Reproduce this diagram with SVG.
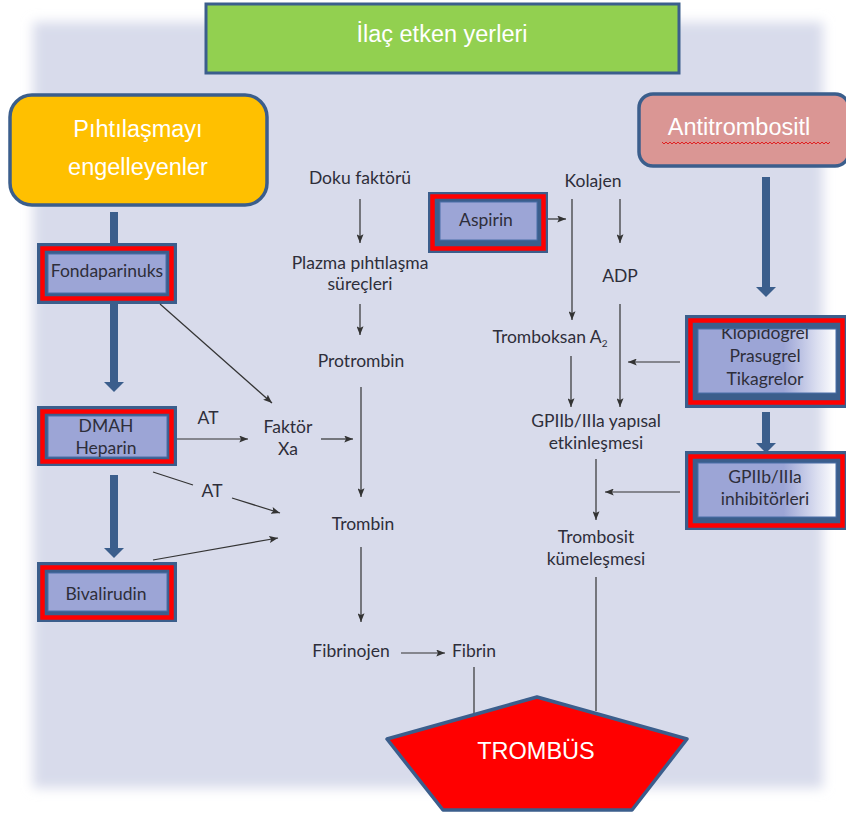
<svg xmlns="http://www.w3.org/2000/svg" width="846" height="814" viewBox="0 0 846 814">
<defs>
<filter id="blur" x="-5%" y="-5%" width="110%" height="110%"><feGaussianBlur stdDeviation="6"/></filter>
<linearGradient id="fadeR" x1="0" y1="0" x2="1" y2="0">
<stop offset="0" stop-color="#9CA5D6"/><stop offset="0.62" stop-color="#9CA5D6"/><stop offset="1" stop-color="#FFFFFF"/>
</linearGradient>
<marker id="ah" viewBox="0 0 10 8" refX="10" refY="4" markerWidth="9" markerHeight="7" markerUnits="userSpaceOnUse" orient="auto"><path d="M0,0 L10,4 L0,8 L2,4 z" fill="#333"/></marker>
<marker id="big" viewBox="0 0 10 20" refX="0" refY="10" markerWidth="10" markerHeight="20" markerUnits="userSpaceOnUse" orient="auto"><path d="M0,0 L10,10 L0,20 z" fill="#3B5E8C"/></marker>
<clipPath id="clipK"><rect x="698" y="329" width="138" height="64"/></clipPath>
<style>
.t{font-family:Lato,"Open Sans","DejaVu Sans",sans-serif;font-size:17.5px;fill:#2E2E3A;text-anchor:middle}
.w{font-family:"Liberation Sans",Arial,sans-serif;font-size:23.5px;fill:#FFFFFF;text-anchor:middle}
.frame{fill:#3B5E8C}
.red{fill:none;stroke:#FF0000;stroke-width:4.5}
.inner{fill:#9CA5D6;stroke:#4A6FA8;stroke-width:1}
.thin{stroke:#333;stroke-width:1.2;fill:none}
.thick{stroke:#3B5E8C;stroke-width:8;fill:none}
</style>
</defs>
<rect x="0" y="0" width="846" height="814" fill="#FFFFFF"/>
<rect x="33" y="22" width="790" height="766" fill="#D8DBEB" filter="url(#blur)"/>

<g id="title">
<rect x="206" y="4" width="473" height="69" fill="#92D050" stroke="#3B5E8C" stroke-width="3"/>
<text class="w" x="442" y="42" font-size="24.5">İlaç etken yerleri</text>
</g>

<g id="pihtilasma">
<rect x="10" y="95" width="257" height="110" rx="22" fill="#FFC000" stroke="#3B5E8C" stroke-width="3.5"/>
<text class="w" x="138" y="137">Pıhtılaşmayı</text>
<text class="w" x="138" y="175">engelleyenler</text>
</g>

<g id="antitrombositl">
<rect x="639" y="94" width="210" height="72" rx="14" fill="#DA9694" stroke="#3B5E8C" stroke-width="3.5"/>
<text class="w" x="739" y="135" font-size="25.5">Antitrombositl</text>
<path d="M662,142 l2,2 l2,-2 l2,2 l2,-2 l2,2 l2,-2 l2,2 l2,-2 l2,2 l2,-2 l2,2 l2,-2 l2,2 l2,-2 l2,2 l2,-2 l2,2 l2,-2 l2,2 l2,-2 l2,2 l2,-2 l2,2 l2,-2 l2,2 l2,-2 l2,2 l2,-2 l2,2 l2,-2 l2,2 l2,-2 l2,2 l2,-2 l2,2 l2,-2 l2,2 l2,-2 l2,2 l2,-2 l2,2 l2,-2 l2,2 l2,-2 l2,2 l2,-2 l2,2 l2,-2 l2,2 l2,-2 l2,2 l2,-2 l2,2 l2,-2 l2,2 l2,-2 l2,2 l2,-2 l2,2 l2,-2 l2,2 l2,-2 l2,2 l2,-2 l2,2 l2,-2 l2,2 l2,-2 l2,2 l2,-2 l2,2 l2,-2 l2,2 l2,-2 l2,2 l2,-2 l2,2 l2,-2 l2,2 l2,-2 l2,2 l2,-2 l2,2 l2,-2" fill="none" stroke="#E02020" stroke-width="1"/>
</g>

<g id="fondaparinuks">
<rect class="frame" x="37" y="243" width="140" height="61"/>
<rect class="red" x="42.5" y="248.5" width="129" height="50"/>
<rect class="inner" x="48" y="254" width="118" height="39"/>
<text class="t" x="107" y="277">Fondaparinuks</text>
</g>

<g id="dmah">
<rect class="frame" x="37" y="406" width="140" height="60"/>
<rect class="red" x="42.5" y="411.5" width="129" height="50"/>
<rect class="inner" x="48" y="416" width="119" height="41"/>
<text class="t" x="106" y="432">DMAH</text>
<text class="t" x="106" y="454">Heparin</text>
</g>

<g id="bivalirudin">
<rect class="frame" x="37" y="562" width="140" height="60"/>
<rect class="red" x="42.5" y="567.5" width="129" height="50"/>
<rect class="inner" x="48" y="573" width="119" height="38"/>
<text class="t" x="106" y="600">Bivalirudin</text>
</g>

<g id="aspirin">
<rect class="frame" x="428" y="192" width="120" height="61"/>
<rect class="red" x="432.5" y="196.5" width="111" height="52"/>
<rect class="inner" x="440" y="202" width="97" height="38"/>
<text class="t" x="486" y="226">Aspirin</text>
</g>

<g id="klopidogrel">
<rect class="frame" x="685" y="315" width="161" height="93"/>
<rect class="red" x="690.5" y="320.5" width="152" height="82"/>
<rect x="698" y="329" width="138" height="64" fill="url(#fadeR)" stroke="#4A6FA8" stroke-width="1"/>
<g clip-path="url(#clipK)">
<text class="t" x="765" y="339">Klopidogrel</text>
<text class="t" x="765" y="362">Prasugrel</text>
<text class="t" x="765" y="385">Tikagrelor</text>
</g>
</g>

<g id="gp-inhibitorleri">
<rect class="frame" x="685" y="451" width="161" height="79"/>
<rect class="red" x="690.5" y="456.5" width="152" height="69"/>
<rect x="698" y="463" width="138" height="54" fill="url(#fadeR)" stroke="#4A6FA8" stroke-width="1"/>
<text class="t" x="765" y="483">GPIIb/IIIa</text>
<text class="t" x="765" y="505">inhibitörleri</text>
</g>

<g id="labels">
<text class="t" x="360" y="184">Doku faktörü</text>
<text class="t" x="360" y="269">Plazma pıhtılaşma</text>
<text class="t" x="360" y="290">süreçleri</text>
<text class="t" x="361" y="367">Protrombin</text>
<text class="t" x="288" y="433">Faktör</text>
<text class="t" x="288" y="455">Xa</text>
<text class="t" x="208" y="424">AT</text>
<text class="t" x="212" y="497">AT</text>
<text class="t" x="363" y="530">Trombin</text>
<text class="t" x="351" y="657">Fibrinojen</text>
<text class="t" x="474" y="657">Fibrin</text>
<text class="t" x="593" y="187">Kolajen</text>
<text class="t" x="620" y="282">ADP</text>
<text class="t" x="550" y="343">Tromboksan A<tspan font-size="10" dy="4">2</tspan></text>
<text class="t" x="596" y="427">GPIIb/IIIa yapısal</text>
<text class="t" x="596" y="449">etkinleşmesi</text>
<text class="t" x="596" y="543">Trombosit</text>
<text class="t" x="596" y="565">kümeleşmesi</text>
</g>

<g id="connectors">
<line class="thick" x1="114" y1="212" x2="114" y2="243"/>
<line class="thick" x1="114" y1="304" x2="114" y2="382" marker-end="url(#big)"/>
<line class="thick" x1="114" y1="475" x2="114" y2="548" marker-end="url(#big)"/>
<line class="thick" x1="766" y1="177" x2="766" y2="287" marker-end="url(#big)"/>
<line class="thick" x1="766" y1="412" x2="766" y2="443" marker-end="url(#big)"/>

<line class="thin" x1="160" y1="304" x2="272" y2="403" marker-end="url(#ah)"/>
<line class="thin" x1="177" y1="439" x2="248" y2="439" marker-end="url(#ah)"/>
<line class="thin" x1="321" y1="439" x2="353" y2="439" marker-end="url(#ah)"/>
<line class="thin" x1="153" y1="472" x2="193" y2="485"/>
<line class="thin" x1="232" y1="498" x2="280" y2="513" marker-end="url(#ah)"/>
<line class="thin" x1="153" y1="560" x2="278" y2="538" marker-end="url(#ah)"/>

<line class="thin" x1="360" y1="199" x2="360" y2="243" marker-end="url(#ah)"/>
<line class="thin" x1="360" y1="304" x2="360" y2="335" marker-end="url(#ah)"/>
<line class="thin" x1="361" y1="387" x2="361" y2="497" marker-end="url(#ah)"/>
<line class="thin" x1="361" y1="547" x2="361" y2="622" marker-end="url(#ah)"/>
<line class="thin" x1="401" y1="653" x2="445" y2="653" marker-end="url(#ah)"/>
<line class="thin" x1="474" y1="667" x2="474" y2="714"/>

<line class="thin" x1="548" y1="219" x2="566" y2="219" marker-end="url(#ah)"/>
<line class="thin" x1="572" y1="199" x2="572" y2="320" marker-end="url(#ah)"/>
<line class="thin" x1="620" y1="199" x2="620" y2="243" marker-end="url(#ah)"/>
<line class="thin" x1="620" y1="304" x2="620" y2="407" marker-end="url(#ah)"/>
<line class="thin" x1="571" y1="356" x2="571" y2="407" marker-end="url(#ah)"/>
<line class="thin" x1="680" y1="362" x2="628" y2="362" marker-end="url(#ah)"/>
<line class="thin" x1="596" y1="459" x2="596" y2="520" marker-end="url(#ah)"/>
<line class="thin" x1="680" y1="492" x2="605" y2="492" marker-end="url(#ah)"/>
<line class="thin" x1="596" y1="577" x2="596" y2="711"/>
</g>

<g id="trombus">
<polygon points="537,697 687,739 632,810 443,810 387,739" fill="#FF0000" stroke="#3B5E8C" stroke-width="3.5" stroke-linejoin="round"/>
<text class="w" x="536" y="759" font-size="22">TROMBÜS</text>
</g>
</svg>
